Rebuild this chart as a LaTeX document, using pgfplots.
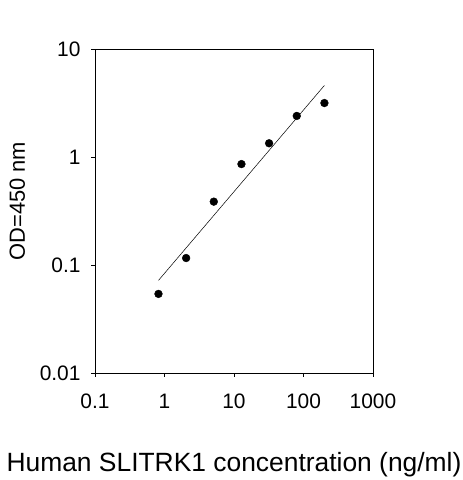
\documentclass[border=0pt]{standalone}
\usepackage{pgfplots}
\pgfplotsset{compat=1.18}
\usepackage{fontspec}
\setmainfont{Liberation Sans}
\begin{document}
\begin{tikzpicture}[x=1bp,y=1bp]
\useasboundingbox (0,0) rectangle (463,480);
\begin{axis}[
  at={(95bp,107bp)}, anchor=south west,
  scale only axis,
  width=278bp, height=324bp,
  xmode=log, ymode=log,
  xmin=0.1, xmax=1000, ymin=0.01, ymax=10,
  xtick={0.1,1,10,100,1000},
  xticklabels={0.1,1,10,100,1000},
  ytick={0.01,0.1,1,10},
  yticklabels={0.01,0.1,1,10},
  minor tick length=0pt,
  minor tick style={draw=none},
  tick align=outside,
  major tick length=4bp,
  tick style={black, line width=0.8bp},
  axis line style={line width=0.8bp},
  xtick pos=bottom, ytick pos=left,
  ticklabel style={font=\fontsize{21}{24}\selectfont},
  /pgf/number format/assume math mode=true,
  xticklabel style={yshift=-13bp, text height=15bp, text depth=0bp},
  yticklabel style={xshift=-7bp},
  xlabel={Human SLITRK1 concentration (ng/ml)},
  ylabel={OD=450 nm},
  xlabel style={font=\fontsize{26.5}{30}\selectfont, at={(0.5,0)}, anchor=base, yshift=-98bp},
  ylabel style={font=\fontsize{22}{26}\selectfont, at={(0,0.53)}, anchor=base, yshift=70bp},
  clip=false,
]
\addplot[black, line width=0.5bp, no marks] coordinates {(0.8192,0.072) (200,4.6)};
\addplot[only marks, mark=*, mark size=3.9bp, black] coordinates {
(0.8192,0.054) (2.048,0.116) (5.12,0.386) (12.8,0.86) (32,1.34) (80,2.4) (200,3.16)
};
\end{axis}
\end{tikzpicture}
\end{document}
